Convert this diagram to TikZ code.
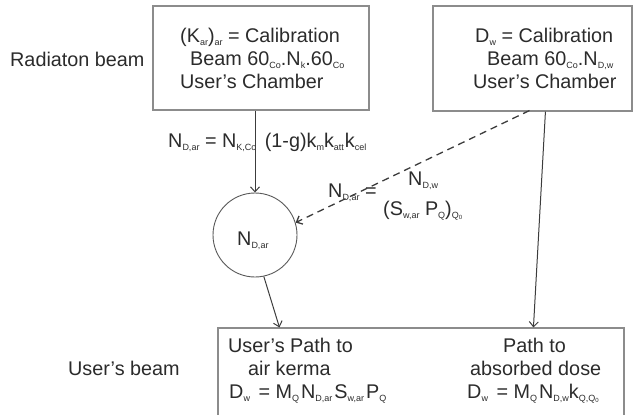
\documentclass[tikz,border=0pt]{standalone}
\usepackage{fontspec}
\setmainfont{Liberation Sans}
\usetikzlibrary{arrows.meta}
\newcommand\sbs[1]{\raisebox{-3pt}{\fontsize{9}{9}\selectfont #1}}
\newcommand\tsb[1]{\raisebox{-1.5pt}{\fontsize{6}{6}\selectfont #1}}
\definecolor{txt}{HTML}{2B2B2B}
\definecolor{boxc}{HTML}{8C8C8C}
\definecolor{linec}{HTML}{3C3C3C}
\begin{document}
\begin{tikzpicture}[x=1pt,y=-1pt,
  every node/.style={font=\fontsize{19.8}{23}\selectfont, text=txt, inner sep=0pt},
  lbl/.style={anchor=base west},
  frame/.style={draw=boxc, line width=1.1pt, rectangle, inner sep=0pt},
  conn/.style={draw=linec, line width=1pt, -{Straight Barb[length=5pt,width=9pt]}},
  dconn/.style={conn, dash pattern=on 7pt off 5pt, line width=1.3pt}]
\useasboundingbox (0,0) rectangle (638,415);
\clip (0,0) rectangle (638,415);
% boxes
\node[frame, minimum width=216pt, minimum height=104pt] (b1) at (261,58) {};
\node[frame, minimum width=199pt, minimum height=105pt] (b2) at (532.5,58.5) {};
\node[frame, minimum width=406pt, minimum height=110pt] (b3) at (421,383) {};
\node[circle, draw=linec!85, line width=0.9pt, minimum size=84pt] (c) at (255,235) {};
% side labels
\node[lbl] (rb) at (10,66) {Radiaton beam};
\node[lbl] (ub) at (68,375) {User’s beam};
% box 1 text
\node[lbl] (t11) at (180,42) {(K\sbs{ar})\sbs{ar} = Calibration};
\node[lbl] (t12) at (190,65) {Beam 60\sbs{Co}.N\sbs{k}.60\sbs{Co}};
\node[lbl] (t13) at (180,88) {User’s Chamber};
% box 2 text
\node[lbl] (t21) at (475,42) {D\sbs{w} = Calibration};
\node[lbl] (t22) at (487,65) {Beam 60\sbs{Co}.N\sbs{D,w}};
\node[lbl] (t23) at (473,88) {User’s Chamber};
% formula on the vertical connector
\node[lbl] (f1) at (168,147) {N\sbs{D,ar} = N\sbs{K,Co}\hspace{3pt} (1-g)k\sbs{m}k\sbs{att}\hspace{1pt}k\sbs{cel}};
% formula on the dashed connector
\node[lbl] (f2) at (328,197) {N\sbs{D,ar} =};
\node[lbl] (f3) at (408,185) {N\sbs{D,w}};
\node[lbl] (f4) at (383,215) {(S\sbs{w,ar} P\sbs{Q})\sbs{Q\tsb{0}}};
% circle label
\node[lbl] (cl) at (237,245) {N\sbs{D,ar}};
% box 3 text
\node[lbl] (t31) at (228,352) {User’s Path to};
\node[lbl] (t32) at (248,375) {air kerma};
\node[lbl] (t33) at (229,398) {D\sbs{w}\hspace{3pt} = M\sbs{Q}\hspace{2pt}N\sbs{D,ar}\hspace{2pt}S\sbs{w,ar}\hspace{2pt}P\sbs{Q}};
\node[lbl] (t34) at (503,352) {Path to};
\node[lbl] (t35) at (470,375) {absorbed dose};
\node[lbl] (t36) at (467,398) {D\sbs{w}\hspace{3pt} = M\sbs{Q}\hspace{2pt}N\sbs{D,w}k\sbs{Q,Q\tsb{0}}};
% connector end points
\path (b3.north west) ++(62,0) coordinate (p1);
\path (b2.south west) ++(97,-1) coordinate (p3);
\path (b2.south west) ++(113,0) coordinate (p4);
\path (b3.north west) ++(316,0) coordinate (p5);
% connectors
\draw[conn] (b1.south -| c.north) -- (c.north);
\draw[conn] (c.-78) -- (p1);
\draw[dconn] (p3) -- (c.17);
\draw[conn] (p4) -- (p5);
\end{tikzpicture}
\end{document}
